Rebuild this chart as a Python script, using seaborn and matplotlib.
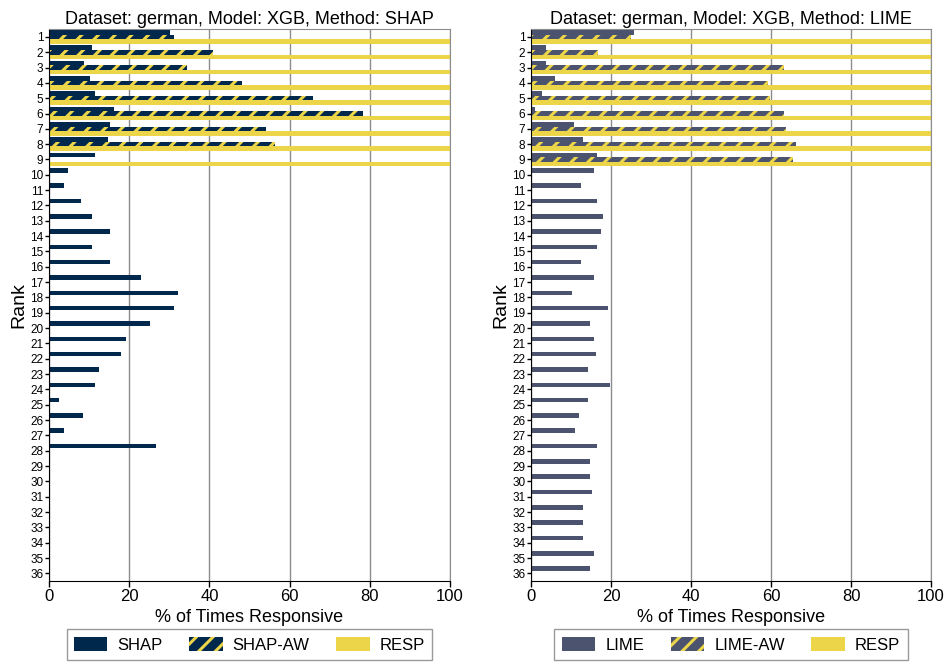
import pandas as pd
import matplotlib
matplotlib.use('Agg')
from matplotlib import pyplot as plt
from matplotlib.patches import Patch
import seaborn as sns

# % of times responsive per feature rank
ranks = [str(r) for r in range(1, 37)]

shap = [30.2, 10.7, 8.7, 10.2, 11.4, 16.2, 15.2, 14.7, 11.4, 4.7, 3.7, 7.9,
        10.7, 15.2, 10.7, 15.2, 22.9, 32.2, 31.1, 25.2, 19.1, 17.9, 12.4, 11.4,
        2.4, 8.6, 3.7, 26.7, 0, 0, 0, 0, 0, 0, 0, 0]
shap_aw = [31.2, 40.8, 34.4, 48.1, 65.8, 78.3, 54.1, 56.3, 0, 0, 0, 0,
           0, 0, 0, 0, 0, 0, 0, 0, 0, 0, 0, 0,
           0, 0, 0, 0, 0, 0, 0, 0, 0, 0, 0, 0]
resp_shap = [100, 100, 100, 100, 100, 100, 100, 100, 100, 0, 0, 0,
             0, 0, 0, 0, 0, 0, 0, 0, 0, 0, 0, 0,
             0, 0, 0, 0, 0, 0, 0, 0, 0, 0, 0, 0]

lime = [25.7, 3.7, 3.7, 5.9, 2.7, 0.9, 10.7, 12.9, 16.4, 15.7, 12.4, 16.4,
        17.9, 17.4, 16.4, 12.4, 15.7, 10.2, 19.2, 14.7, 15.7, 16.2, 14.2, 19.7,
        14.2, 11.9, 10.9, 16.4, 14.7, 14.7, 15.2, 12.9, 12.9, 12.9, 15.7, 14.7]
lime_aw = [25.0, 16.7, 63.2, 59.2, 59.7, 63.2, 63.7, 66.3, 65.4, 0, 0, 0,
           0, 0, 0, 0, 0, 0, 0, 0, 0, 0, 0, 0,
           0, 0, 0, 0, 0, 0, 0, 0, 0, 0, 0, 0]
resp_lime = [100, 100, 100, 100, 100, 100, 100, 100, 100, 0, 0, 0,
             0, 0, 0, 0, 0, 0, 0, 0, 0, 0, 0, 0,
             0, 0, 0, 0, 0, 0, 0, 0, 0, 0, 0, 0]

navy = '#00274C'
slate = '#4B536E'
maize = '#ECD548'
gridc = '#8C8C8C'

sns.set_style('white')
plt.rcParams['font.family'] = ['Liberation Sans', 'DejaVu Sans']
plt.rcParams['hatch.linewidth'] = 2.2
for k in ['text.color', 'axes.labelcolor', 'xtick.color', 'ytick.color']:
    plt.rcParams[k] = 'black'

panels = [
    ('SHAP', shap, shap_aw, resp_shap, navy),
    ('LIME', lime, lime_aw, resp_lime, slate),
]

fig = plt.figure(figsize=(9.47, 6.64), dpi=100)
axes = [fig.add_axes([0.0517, 0.125, 0.4235, 0.831]),
        fig.add_axes([0.5607, 0.125, 0.4225, 0.831])]

for ax, (name, base, aw, resp, col) in zip(axes, panels):
    labels = [name, name + '-AW', 'RESP']
    df = pd.DataFrame({
        'Rank': ranks * 3,
        'value': base + aw + resp,
        'method': [labels[0]] * 36 + [labels[1]] * 36 + [labels[2]] * 36,
    })
    sns.barplot(data=df, x='value', y='Rank', hue='method', order=ranks,
                hue_order=labels, orient='h', width=0.9, saturation=1,
                palette={labels[0]: col, labels[1]: col, labels[2]: maize},
                legend=False, ax=ax)
    for c in ax.containers:
        for p in c:
            p.set_linewidth(0)
    for p in ax.containers[1]:
        p.set_hatch('//')
        p.set_edgecolor(maize)

    ax.set_xlim(0, 100)
    ax.set_ylim(35.5, -0.5)
    ax.set_xticks([0, 20, 40, 60, 80, 100])
    ax.xaxis.grid(True, color=gridc, linewidth=1)
    ax.yaxis.grid(False)
    ax.set_axisbelow(True)
    for s in ['top', 'right']:
        ax.spines[s].set_color(gridc)
    for s in ['left', 'bottom']:
        ax.spines[s].set_color('black')
    ax.tick_params(axis='x', labelsize=12, length=4, width=1, direction='out',
                   bottom=True, pad=2)
    ax.tick_params(axis='y', labelsize=8.5, length=3, width=1, direction='out',
                   left=True, pad=1)
    ax.set_xlabel('% of Times Responsive', fontsize=13, labelpad=3)
    ax.set_ylabel('Rank', fontsize=14, labelpad=2)
    ax.set_title('Dataset: german, Model: XGB, Method: ' + name, fontsize=13, pad=4)

    handles = [Patch(facecolor=col, edgecolor='none', label=labels[0]),
               Patch(facecolor=col, edgecolor=maize, hatch='//', linewidth=0, label=labels[1]),
               Patch(facecolor=maize, edgecolor='none', label=labels[2])]
    leg = ax.legend(handles=handles, loc='upper center', bbox_to_anchor=(0.5, -0.087),
                    ncol=3, fontsize=12, frameon=True, fancybox=False,
                    edgecolor='#9A9A9A', framealpha=1, borderaxespad=0,
                    handlelength=2.0, handleheight=1.0, handletextpad=0.6,
                    columnspacing=1.6, borderpad=0.45)
    leg.get_frame().set_linewidth(1)

fig.savefig('out.png', dpi=100)
